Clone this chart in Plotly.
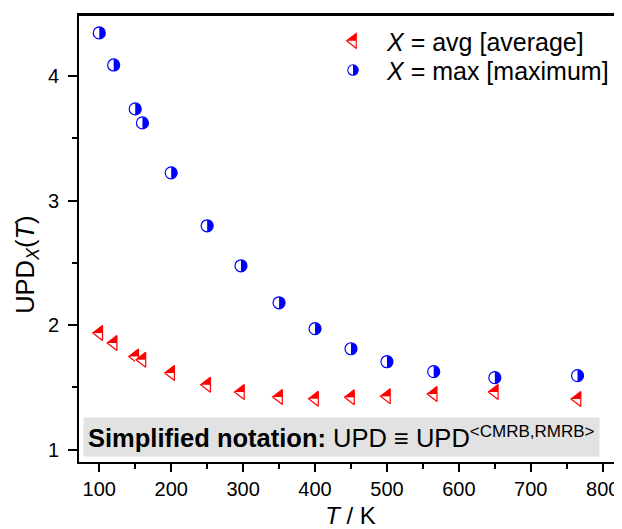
import plotly.graph_objects as go

# ---- data ----
temperature = [100, 120, 150, 160, 200, 250, 297, 350, 400, 450, 500, 565, 650, 765]
upd_avg = [1.936, 1.856, 1.748, 1.722, 1.615, 1.521, 1.463, 1.423, 1.409, 1.420, 1.428, 1.447, 1.463, 1.407]
upd_max = [4.345, 4.088, 3.735, 3.623, 3.222, 2.797, 2.476, 2.179, 1.971, 1.810, 1.706, 1.626, 1.578, 1.594]
x_ticks = [100, 200, 300, 400, 500, 600, 700, 800]
y_ticks = [1, 2, 3, 4]
series_names = ["<i>X</i> = avg [average]", "<i>X</i> = max [maximum]"]
note_text = ("<b>Simplified notation:</b> UPD ≡ UPD"
             "<sup><span style='font-size:17px'>&lt;CMRB,RMRB&gt;</span></sup>")

FONT = "Arial, Liberation Sans, sans-serif"

styles = [
    dict(color="#ff0000", sym="triangle-left", size=13, mask=15, angle=0,
         lsize=13, lmask=15, langle=180),
    dict(color="#0000ff", sym="circle", size=12, mask=13, angle=90,
         lsize=10.5, lmask=12, langle=-90),
]
values = [upd_avg, upd_max]

fig = go.Figure()

# half-filled markers: filled symbol, white mask over one half, outline
for st, yv in zip(styles, values):
    for t, v in zip(temperature, yv):
        fig.add_trace(go.Scatter(
            x=[t], y=[v], mode="markers", showlegend=False, hoverinfo="skip",
            marker=dict(symbol=st["sym"], size=st["size"], color=st["color"],
                        line=dict(width=0))))
        fig.add_trace(go.Scatter(
            x=[t], y=[v], mode="markers", showlegend=False, hoverinfo="skip",
            marker=dict(symbol="square", size=st["mask"], color="white",
                        angle=st["angle"], standoff=st["mask"] / 2,
                        line=dict(width=0))))
        fig.add_trace(go.Scatter(
            x=[t], y=[v], mode="markers", showlegend=False,
            marker=dict(symbol=st["sym"] + "-open", size=st["size"],
                        color=st["color"], line=dict(width=1.2))))

# legend entries (layered the same way, one legend per layer)
legend_rows = [0.9418, 0.8763]
legend_layout = {}
for k, (st, name) in enumerate(zip(styles, series_names)):
    layers = [
        dict(symbol=st["sym"], size=st["lsize"], color=st["color"], line=dict(width=0)),
        dict(symbol="square", size=st["lmask"], color="white", angle=st["langle"],
             standoff=st["lmask"] / 2, line=dict(width=0)),
        dict(symbol=st["sym"] + "-open", size=st["lsize"], color=st["color"],
             line=dict(width=1.1)),
    ]
    for j, mk in enumerate(layers):
        idx = k * 3 + j
        lid = "legend" if idx == 0 else f"legend{idx + 1}"
        fig.add_trace(go.Scatter(x=[None], y=[None], mode="markers",
                                 name=name if j == 0 else " ",
                                 marker=mk, showlegend=True, legend=lid))
        legend_layout[lid] = dict(
            x=0.442, y=legend_rows[k], xanchor="left", yanchor="middle",
            bgcolor="rgba(0,0,0,0)", borderwidth=0, itemwidth=58,
            font=dict(family=FONT, size=25, color="black"))

fig.update_layout(**legend_layout)

# the page body adds an 8 px offset, so the figure is 8 px smaller on each side
fig.update_layout(
    width=614, height=521,
    margin=dict(l=71, r=0, t=7, b=67),
    paper_bgcolor="white", plot_bgcolor="white",
    font=dict(family=FONT, color="black"),
    xaxis=dict(
        range=[71.8, 826.8], tickvals=x_ticks, ticks="outside", ticklen=8,
        tickwidth=1.5, tickcolor="black", showline=True, linewidth=1.6,
        linecolor="black", mirror=True, showgrid=False, zeroline=False,
        tickfont=dict(size=20, family=FONT), automargin=False, tickangle=0,
        minor=dict(dtick=50, ticks="outside", ticklen=5, tickwidth=1.5,
                   tickcolor="black", showgrid=False),
        title=dict(text="<i>T</i> / K", font=dict(size=24, family=FONT)),
    ),
    yaxis=dict(
        range=[0.901, 4.489], tickvals=y_ticks, ticks="outside", ticklen=9,
        tickwidth=1.5, tickcolor="black", showline=True, linewidth=1.6,
        linecolor="black", mirror=False, showgrid=False, zeroline=False,
        tickfont=dict(size=20, family=FONT), automargin=False, tickangle=0,
        ticklabelstandoff=5,
        minor=dict(dtick=0.5, ticks="outside", ticklen=5, tickwidth=1.5,
                   tickcolor="black", showgrid=False),
    ),
    shapes=[
        dict(type="line", xref="paper", yref="paper", x0=0, x1=1, y0=1, y1=1,
             layer="above", line=dict(color="black", width=1.8)),
    ],
    annotations=[
        dict(text="UPD<sub><i>X</i></sub>(<i>T</i>)", textangle=-90,
             xref="paper", yref="paper", x=-0.0958, y=0.441,
             xanchor="center", yanchor="middle", showarrow=False,
             font=dict(size=25.5, family=FONT)),
        dict(text=note_text, xref="paper", yref="paper", x=0.0079, y=0.0105,
             xanchor="left", yanchor="bottom", showarrow=False, align="left",
             width=507, height=30, borderpad=4, bgcolor="#e2e2e2",
             font=dict(size=25.5, family=FONT)),
    ],
)

fig.write_html("out.html")
